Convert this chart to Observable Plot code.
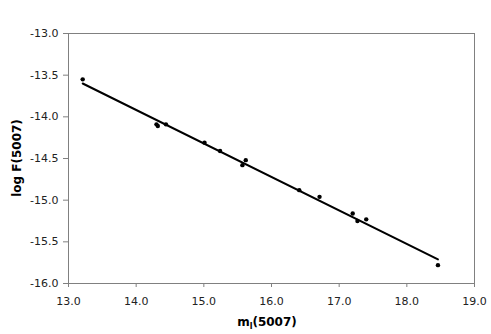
<!DOCTYPE html>
<html><head><meta charset="utf-8">
<script src="https://cdn.jsdelivr.net/npm/d3@7"></script>
<script src="https://cdn.jsdelivr.net/npm/@observablehq/plot@0.6"></script>
<style>body{margin:0;background:#fff;}</style>
</head><body><div id="chart"></div>
<script>
// Observed points: magnitude m_l(5007) vs log F(5007)
const mag  = [13.21, 14.30, 14.32, 14.44, 15.01, 15.24, 15.57, 15.62, 16.41, 16.71, 17.20, 17.27, 17.40, 18.46];
const logF = [-13.55, -14.09, -14.11, -14.09, -14.31, -14.41, -14.58, -14.52, -14.88, -14.96, -15.16, -15.25, -15.23, -15.78];
// Fitted line endpoints
const fitMag  = [13.21, 18.46];
const fitLogF = [-13.60, -15.71];
// Tick values
const xTicks = [13, 14, 15, 16, 17, 18, 19];
const yTicks = [-16, -15.5, -15, -14.5, -14, -13.5, -13];

const pts = mag.map((m, i) => ({m, f: logF[i]}));
const fit = fitMag.map((m, i) => ({m, f: fitLogF[i]}));

const chart = Plot.plot({
  width: 491, height: 334,
  marginLeft: 68, marginTop: 33, marginRight: 17, marginBottom: 51,
  style: {fontFamily: "DejaVu Sans", fontSize: "11px", color: "#222", background: "#fff"},
  x: {domain: [13, 19]},
  y: {domain: [-16, -13]},
  marks: [
    Plot.frame({stroke: "#808080"}),
    Plot.axisX({ticks: xTicks, tickFormat: d => d.toFixed(1), tickSize: 4, tickPadding: 10, stroke: "#808080", label: null}),
    Plot.axisY({ticks: yTicks, tickFormat: d => d.toFixed(1), tickSize: 5, tickPadding: 5, stroke: "#808080", label: null}),
    Plot.line(fit, {x: "m", y: "f", stroke: "#000", strokeWidth: 2}),
    Plot.dot(pts, {x: "m", y: "f", r: 2.2, fill: "#000", stroke: "none"})
  ]
});
document.getElementById("chart").appendChild(chart);

const svg = d3.select(chart);
svg.append("text")
  .attr("transform", "translate(21,158) rotate(-90)")
  .attr("text-anchor", "middle")
  .attr("font-family", "DejaVu Sans").attr("font-size", 12).attr("font-weight", "bold")
  .attr("fill", "#000")
  .text("log F(5007)");
const xl = svg.append("text")
  .attr("x", 267).attr("y", 326)
  .attr("text-anchor", "middle")
  .attr("font-family", "DejaVu Sans").attr("font-size", 12).attr("font-weight", "bold")
  .attr("fill", "#000");
xl.append("tspan").text("m");
xl.append("tspan").attr("font-size", 8).attr("dy", 3).text("l");
xl.append("tspan").attr("dy", -3).text("(5007)");
</script>
</body></html>
